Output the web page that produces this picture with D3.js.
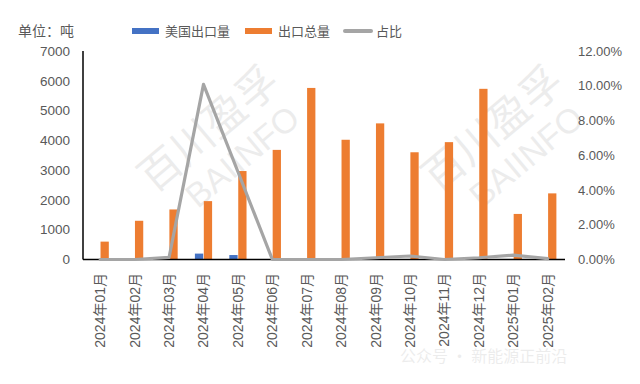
<!DOCTYPE html>
<html><head><meta charset="utf-8">
<script src="https://cdn.jsdelivr.net/npm/d3@7"></script>
<style>body{margin:0;background:#fff}svg{display:block}</style>
</head><body><svg id="c" width="640" height="384"></svg>
<script>
const months = ["2024年01月","2024年02月","2024年03月","2024年04月","2024年05月","2024年06月","2024年07月","2024年08月","2024年09月","2024年10月","2024年11月","2024年12月","2025年01月","2025年02月"];
const usExports = [0, 0, 2, 198, 150, 0, 0, 0, 5, 7, 0, 6, 4, 1];
const totalExports = [600, 1300, 1680, 1960, 2970, 3680, 5760, 4020, 4570, 3600, 3940, 5730, 1530, 2220];
const sharePct = [0, 0, 0.12, 10.08, 5.05, 0, 0, 0, 0.1, 0.2, 0, 0.1, 0.25, 0.05];
const leftTicks = [0,1000,2000,3000,4000,5000,6000,7000];
const rightTicks = [0,2,4,6,8,10,12];
const seriesNames = ["美国出口量","出口总量","占比"];

const svg = d3.select("#c");
const font = "'Liberation Sans','Noto Sans CJK SC',sans-serif";
const cjk = "'Noto Sans CJK SC',sans-serif";
const txt = "#595959";
const colors = ["#4472C4","#ED7D31","#A5A5A5"];

const x = d3.scaleBand().domain(months).range([83,565]);
const sub = d3.scaleBand().domain([0,1]).range([-8.6,8.6]).paddingInner(0.07);
const yL = d3.scaleLinear().domain([0,7000]).range([259.5,51]);
const yR = d3.scaleLinear().domain([0,12]).range([259.5,51]);

// watermarks
function wm(cx, cy){
  const g = svg.append("g").attr("transform",`translate(${cx},${cy}) rotate(-40)`).attr("fill","#000").attr("opacity",0.07);
  g.append("text").attr("x",0).attr("y",0).attr("text-anchor","middle").attr("font-family",cjk).attr("font-size",42).text("百川盈孚");
  g.append("text").attr("x",8).attr("y",40).attr("text-anchor","middle").attr("font-family",font).attr("font-size",34).text("BAIINFO");
}
wm(218,140); wm(502,140);
svg.append("text").attr("x",400).attr("y",362).attr("font-family",cjk).attr("font-size",16)
  .attr("fill","#000").attr("opacity",0.07).text("公众号 · 新能源正前沿");

// bars
svg.append("g").selectAll("rect").data(months).join("rect")
  .attr("x",d=>x(d)+x.bandwidth()/2+sub(1)).attr("width",sub.bandwidth())
  .attr("y",(d,i)=>yL(totalExports[i])).attr("height",(d,i)=>yL(0)-yL(totalExports[i]))
  .attr("fill",colors[1]);
svg.append("g").selectAll("rect").data(months).join("rect")
  .attr("x",d=>x(d)+x.bandwidth()/2+sub(0)).attr("width",sub.bandwidth())
  .attr("y",(d,i)=>yL(usExports[i])).attr("height",(d,i)=>yL(0)-yL(usExports[i]))
  .attr("fill",colors[0]);

// axes lines
svg.append("line").attr("x1",83).attr("x2",565).attr("y1",yL(0)).attr("y2",yL(0)).attr("stroke","#000").attr("stroke-width",1.5);
svg.append("line").attr("x1",83).attr("x2",83).attr("y1",yL(7000)).attr("y2",yL(0)).attr("stroke","#000").attr("stroke-width",1.5);

// line
const line = d3.line().x((d,i)=>x(months[i])+x.bandwidth()/2).y(d=>yR(d));
svg.append("path").datum(sharePct).attr("d",line).attr("fill","none").attr("stroke",colors[2])
  .attr("stroke-width",3.2).attr("stroke-linejoin","round").attr("stroke-linecap","round");

// left ticks
svg.append("g").selectAll("text").data(leftTicks).join("text")
  .attr("x",70).attr("y",d=>yL(d)).attr("dy","0.35em").attr("text-anchor","end")
  .attr("font-family",font).attr("font-size",13.5).attr("fill",txt).text(d=>d);
// right ticks
svg.append("g").selectAll("text").data(rightTicks).join("text")
  .attr("x",578).attr("y",d=>yR(d)).attr("dy","0.35em").attr("text-anchor","start")
  .attr("font-family",font).attr("font-size",13).attr("fill",txt).text(d=>d.toFixed(2)+"%");
// x labels
svg.append("g").selectAll("text").data(months).join("text")
  .attr("transform",d=>`translate(${x(d)+x.bandwidth()/2},273) rotate(-90)`)
  .attr("dy","0.35em").attr("text-anchor","end")
  .attr("font-family",font).attr("font-size",14).attr("fill",txt).text(d=>d);

// unit
svg.append("text").attr("x",18).attr("y",31).attr("dy","0.35em").attr("font-family",cjk)
  .attr("font-size",14).attr("fill",txt).text("单位：吨");

// legend
const leg = [{x:132,name:seriesNames[0],c:colors[0],t:"rect"},{x:245,name:seriesNames[1],c:colors[1],t:"rect"},{x:343,name:seriesNames[2],c:colors[2],t:"line"}];
leg.forEach(l=>{
  if(l.t==="rect") svg.append("rect").attr("x",l.x).attr("y",28).attr("width",27).attr("height",6).attr("fill",l.c);
  else svg.append("line").attr("x1",l.x+2).attr("x2",l.x+28).attr("y1",31).attr("y2",31).attr("stroke",l.c).attr("stroke-width",4).attr("stroke-linecap","round");
  svg.append("text").attr("x",l.x+33).attr("y",31).attr("dy","0.35em").attr("font-family",cjk)
    .attr("font-size",13).attr("fill",txt).text(l.name);
});
</script></body></html>
